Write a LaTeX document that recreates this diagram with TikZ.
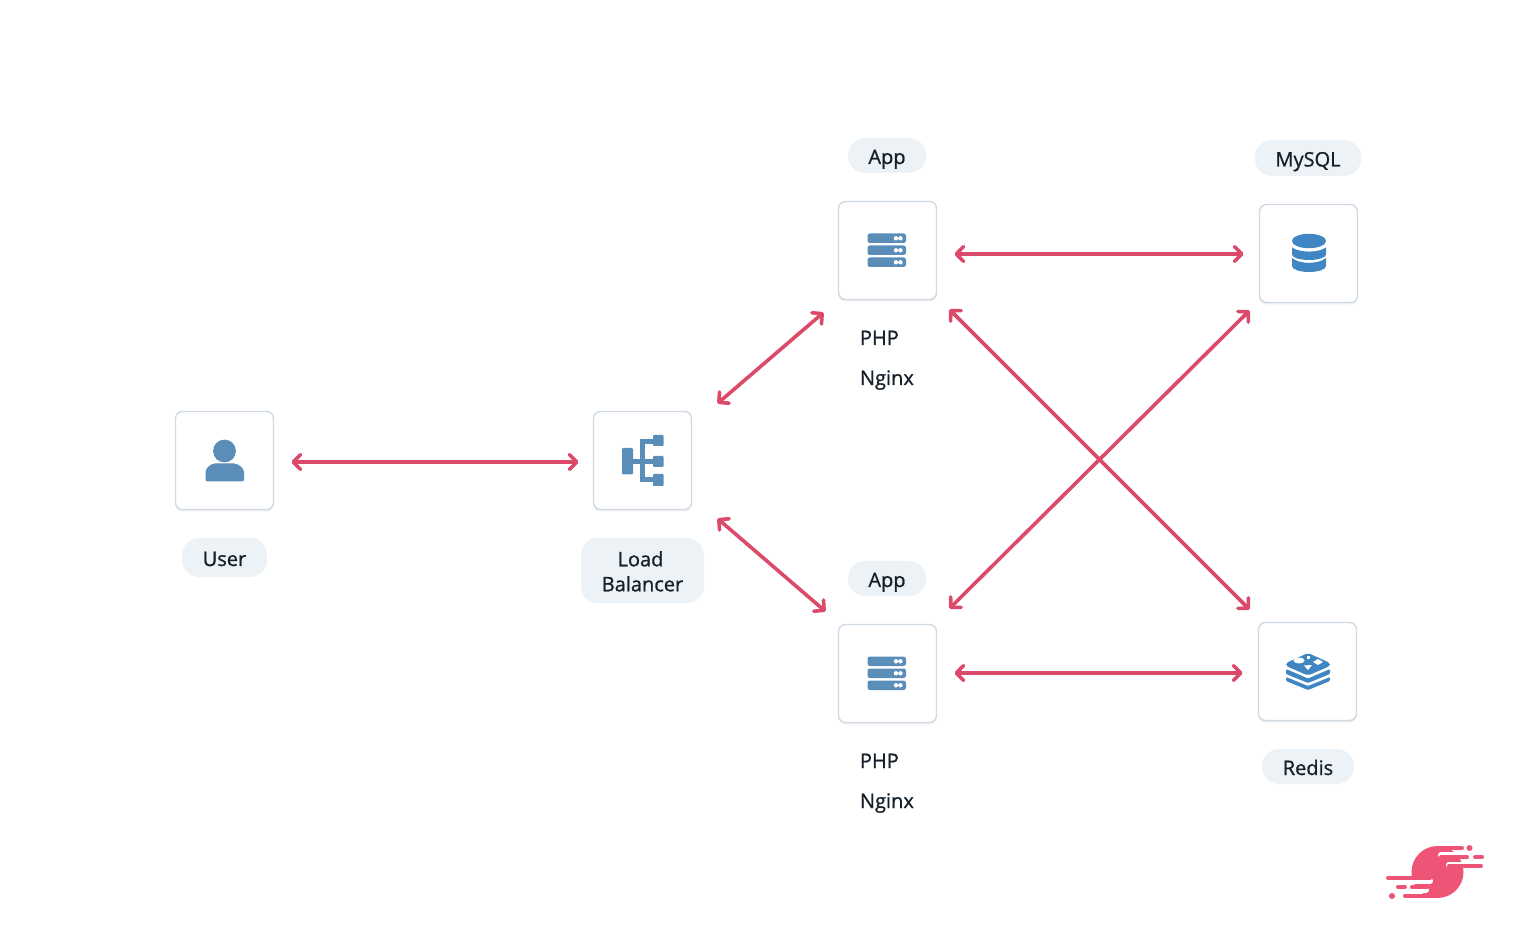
\documentclass[tikz,border=0pt]{standalone}
\usepackage{fontspec}
\setmainfont{Open Sans}[RawFeature={embolden=0.9}]
\usetikzlibrary{arrows.meta,shadows}
\definecolor{linkred}{HTML}{DC4A6A}
\definecolor{iconblue}{HTML}{5B8DB9}
\definecolor{dbblue}{HTML}{3F86C2}
\definecolor{pillfill}{HTML}{EDF2F7}
\definecolor{boxline}{HTML}{CFDAE4}
\definecolor{logopink}{HTML}{EE5475}
\definecolor{labeltext}{HTML}{15202A}
\tikzset{
	iconbox/.style={draw=boxline, line width=0.7pt, fill=white, rounded corners=3.5pt, minimum size=49pt, inner sep=0pt, outer sep=0pt, drop shadow={opacity=0.13, shadow xshift=0pt, shadow yshift=-1pt}},
	pill/.style={fill=pillfill, rounded corners=8.5pt, inner sep=0pt, outer sep=0pt, text=labeltext, font=\fontsize{10}{12.5}\selectfont, align=center},
	oneline/.style={text height=8.5pt, text depth=0pt},
	plain/.style={inner sep=0pt, outer sep=0pt, text=labeltext, font=\fontsize{10}{12}\selectfont, anchor=base west},
	link/.style={draw=linkred, line width=1.8pt, {Straight Barb[round,length=3.6pt,width=7.4pt,line width=1.8pt]}-{Straight Barb[round,length=3.6pt,width=7.4pt,line width=1.8pt]}},
	logobar/.style={line width=2pt, line cap=round, draw=logopink},
	logogap/.style={line width=3pt, line cap=round, draw=white},
	servers/.pic={
		\foreach \y in {-17,-5,7}{
			\fill[iconblue, rounded corners=1.2pt] (-19.5,\y) rectangle (19,\y+9.5);
			\fill[white] (9,\y+4.8) circle (1.1pt) (13.5,\y+4.8) circle (1.1pt);
		}
	}
}
\begin{document}
\begin{tikzpicture}[x=0.5pt, y=-0.5pt]
	\useasboundingbox (0,0) rectangle (1536,951);
	% boxes
	\node[iconbox] (user) at (224.5,460.5) {};
	\node[iconbox] (lb) at (642.5,460.5) {};
	\node[iconbox] (apptop) at (887.5,250.5) {};
	\node[iconbox] (appbot) at (887.5,673.5) {};
	\node[iconbox] (mysql) at (1308.5,253.5) {};
	\node[iconbox] (redis) at (1307.5,671.5) {};
	% labels
	\node[pill, oneline, minimum width=42.5pt, minimum height=19.5pt] (userlabel) at (224.5,557.5) {User};
	\node[pill, text height=20.8pt, text depth=0pt, minimum width=61.5pt, minimum height=32.5pt] (lblabel) at (642.5,570.5) {Load\kern2pt\\Balancer};
	\node[pill, oneline, minimum width=39pt, minimum height=17.5pt] (apptoplabel) at (887,155.5) {App};
	\node[pill, oneline, minimum width=39pt, minimum height=17.5pt] (appbotlabel) at (887,578.5) {App};
	\node[pill, oneline, minimum width=53pt, minimum height=18pt] (mysqllabel) at (1308,158) {MySQL};
	\node[pill, oneline, minimum width=46pt, minimum height=17.5pt] (redislabel) at (1308,766.5) {Redis};
	\node[plain] (phptop) at (860,345) {PHP};
	\node[plain] (nginxtop) at (860,385) {Nginx};
	\node[plain] (phpbot) at (860,768) {PHP};
	\node[plain] (nginxbot) at (860,808) {Nginx};
	% connectors
	\draw[link] ([shift={(18,1.5)}]user.east) -- ([shift={(-15,1.5)}]lb.west);
	\draw[link] ([shift={(26,-8)}]lb.north east) -- ([shift={(-15,13)}]apptop.south west);
	\draw[link] ([shift={(26,9)}]lb.south east) -- ([shift={(-13,-13)}]appbot.north west);
	\draw[link] ([shift={(18,3.5)}]apptop.east) -- ([shift={(-16,0.5)}]mysql.west);
	\draw[link] ([shift={(18,-0.5)}]appbot.east) -- ([shift={(-16,1.5)}]redis.west);
	\draw[link] ([shift={(13,10)}]apptop.south east) -- ([shift={(-9,-13)}]redis.north west);
	\draw[link] ([shift={(13,-16)}]appbot.north east) -- ([shift={(-10,8)}]mysql.south west);
	% user icon
	\fill[iconblue] (224.5,451) circle (5.7pt);
	\fill[iconblue, rounded corners=1pt] (205.5,481.5) -- (205.5,474) .. controls (205.5,468) and (211,463.5) .. (217,463.5) -- (232,463.5) .. controls (238,463.5) and (244,468) .. (244,474) -- (244,481.5) -- cycle;
	% load balancer icon
	\fill[iconblue, rounded corners=0.6pt] (622,448) rectangle (633,474.5);
	\fill[iconblue] (633,459) rectangle (640,464);
	\fill[iconblue] (640,439) rectangle (645,482);
	\foreach \y/\h in {439/5,459/5,477/5}{
		\fill[iconblue] (645,\y) rectangle (654,\y+\h);
	}
	\foreach \y/\h in {435/11,456/11,474/12}{
		\fill[iconblue, rounded corners=0.4pt] (653,\y) rectangle (663.5,\y+\h);
	}
	% server icons
	\pic at (887,250.5) {servers};
	\pic at (887,673.5) {servers};
	% mysql icon
	\fill[dbblue] (1309,241) ellipse (8.5pt and 3.6pt);
	\fill[dbblue] (1292,247.5) .. controls (1300,253) and (1318,253) .. (1326,247.5) -- (1326,254.5) arc (0:180:17 and 5.5) -- cycle;
	\fill[dbblue] (1292,258) .. controls (1300,264.5) and (1318,264.5) .. (1326,258) -- (1326,266) arc (0:180:17 and 6) -- cycle;
	% redis icon
	\fill[dbblue, rounded corners=1pt] (1286,663) -- (1308,653) -- (1330,663) -- (1330,666) -- (1308,675.5) -- (1286,666) -- cycle;
	\fill[dbblue, rounded corners=0.6pt] (1286,669) -- (1308,678.5) -- (1330,669) -- (1330,674) -- (1308,683) -- (1286,674) -- cycle;
	\fill[dbblue, rounded corners=0.6pt] (1286,677) -- (1308,686) -- (1330,677) -- (1330,681) -- (1308,690) -- (1286,681) -- cycle;
	\fill[white] (1299,660.5) ellipse (2.8pt and 1.5pt);
	\fill[white] (1318,659) -- (1323,662) -- (1318,665) -- (1313,662) -- cycle;
	\fill[white] (1304,665.5) -- (1312,665) -- (1308,670) -- cycle;
	\fill[white] (1306.5,656) rectangle (1310,658.5);
	% logo
	\fill[logopink] (1437.5,872) circle (13pt);
	\draw[logogap] (1441,855) -- (1490,855);
	\draw[logogap] (1449,864.5) -- (1490,864.5);
	\draw[logogap] (1380,881) -- (1430,881);
	\draw[logogap] (1380,890) -- (1426,890);
	\draw[logobar] (1437,848) -- (1462,848);
	\draw[logobar] (1441,857) -- (1467,857);
	\draw[logobar] (1475,857) -- (1482,857);
	\draw[logobar] (1449,866) -- (1481,866);
	\draw[logobar] (1388,878) -- (1430,878);
	\draw[logobar] (1398,887) -- (1405,887);
	\draw[logobar] (1412,887) -- (1427,887);
	\draw[logobar] (1405,896) -- (1438,896);
	\fill[logopink] (1469.5,848) circle (1.5pt) (1392,896) circle (1.5pt);
\end{tikzpicture}
\end{document}
